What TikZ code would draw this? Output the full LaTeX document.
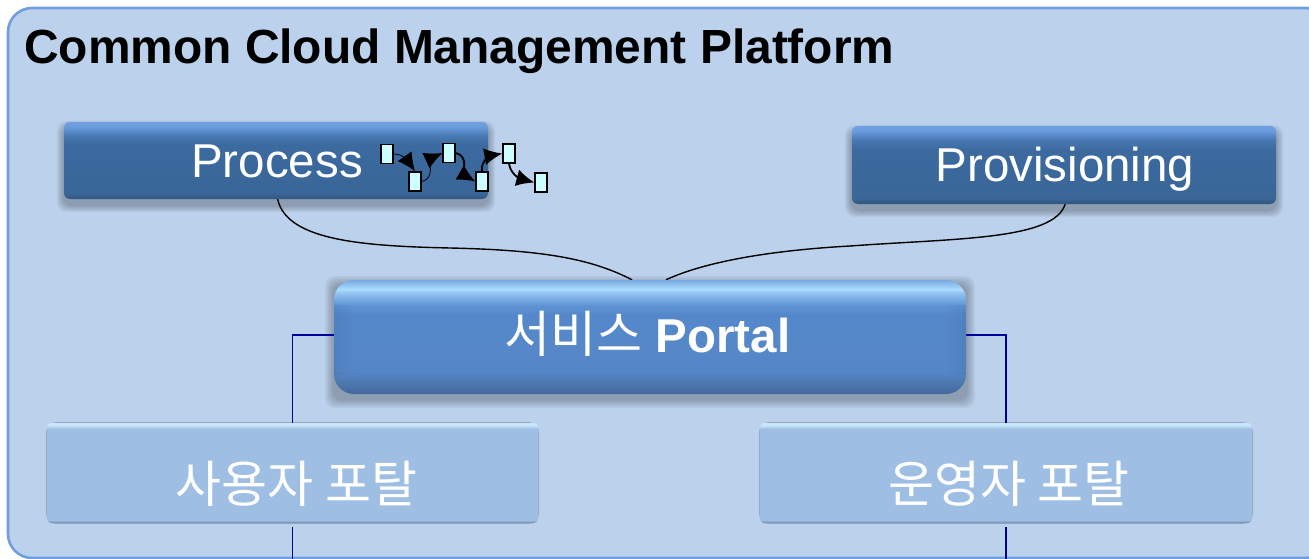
\documentclass[tikz,border=0pt]{standalone}
\usepackage{fontspec}
\setmainfont{Liberation Sans}
\newfontfamily\krfont{Noto Sans CJK KR}
\usetikzlibrary{arrows.meta,calc,fadings}
\pgfdeclarelayer{framelayer}
\pgfdeclarelayer{shadowlayer}
\pgfdeclarelayer{wirelayer}
\pgfsetlayers{framelayer,shadowlayer,wirelayer,main}
\definecolor{framefill}{HTML}{BCD2EC}
\definecolor{frameline}{HTML}{6F9FE0}
\definecolor{wireblue}{HTML}{00009C}
\definecolor{iconfill}{HTML}{CCFFFF}
\definecolor{da}{HTML}{2F5680}
\definecolor{db}{HTML}{3A6698}
\definecolor{dc}{HTML}{3C6A9F}
\definecolor{dd}{HTML}{4878B2}
\definecolor{de}{HTML}{699BDE}
\definecolor{df}{HTML}{70A0E1}
\definecolor{pa}{HTML}{44689C}
\definecolor{pb}{HTML}{4D78B0}
\definecolor{pc}{HTML}{5587C8}
\definecolor{pd}{HTML}{5588CA}
\definecolor{pe}{HTML}{5F95D4}
\definecolor{pf}{HTML}{8FC0F0}
\definecolor{pg}{HTML}{A8DCFF}
\definecolor{ph}{HTML}{7AA8E0}
\definecolor{la}{HTML}{6F88AB}
\definecolor{lb}{HTML}{9FBEE4}
\definecolor{lc}{HTML}{C8E6FA}
% stops: 75bp = top of the shape, 25bp = bottom of the shape
\pgfdeclareverticalshading{darkbar}{100bp}{
 color(0bp)=(da); color(25bp)=(da); color(29bp)=(db); color(60bp)=(dc);
 color(66bp)=(dd); color(72bp)=(de); color(75bp)=(df); color(100bp)=(df)}
\pgfdeclareverticalshading{portalbar}{100bp}{
 color(0bp)=(pa); color(25bp)=(pa); color(30bp)=(pb); color(35bp)=(pc);
 color(60bp)=(pd); color(64bp)=(pe); color(69bp)=(pf); color(71bp)=(pg);
 color(75bp)=(ph); color(100bp)=(ph)}
\pgfdeclareverticalshading{palebar}{100bp}{
 color(0bp)=(la); color(25bp)=(la); color(26.5bp)=(lb); color(72bp)=(lb);
 color(74bp)=(lc); color(75bp)=(lc); color(100bp)=(lc)}
\newcommand{\softshadow}[3]{% node, y offset, spread
 \begin{pgfonlayer}{shadowlayer}
 \foreach \g in {1,...,6}{
  \fill[black,opacity=.045,rounded corners=10pt]
   ($(#1.south west)+(-\g*#3/6,#2+\g*#3/6)$) rectangle ($(#1.north east)+(\g*#3/6,#2-\g*#3/6)$);
 }
 \end{pgfonlayer}}
\newcommand{\barline}[2]{\raisebox{#1}[0pt][0pt]{#2}}
\tikzset{
 x=1pt,y=-1pt,
 barlabel/.style={font=\fontsize{47.5}{52}\selectfont,text=white,inner sep=0pt},
 darkbox/.style={barlabel,shading=darkbar,rounded corners=6pt,minimum width=424pt,minimum height=77pt},
 portalbox/.style={barlabel,shading=portalbar,rounded corners=20pt,minimum width=632pt,minimum height=114pt},
 palebox/.style={barlabel,shading=palebar,rounded corners=4pt,minimum width=491pt,minimum height=100pt},
 icon/.style={draw=black,line width=1.8pt,fill=iconfill,minimum width=11.5pt,minimum height=19pt,inner sep=0pt},
 flow/.style={-{Latex[length=18pt,width=17pt]},black,line width=.8pt},
 flowthick/.style={flow,line width=1.8pt},
 curve/.style={black,line width=1.4pt},
 wire/.style={wireblue,line width=1.5pt},
 bevelshade/.style={black,opacity=.06},
}
\begin{document}
\begin{tikzpicture}
\useasboundingbox (0,0) rectangle (1309,559);
\begin{pgfonlayer}{framelayer}
\draw[frameline,fill=framefill,line width=2.6pt,rounded corners=24pt] (8,8) rectangle (1330,558);
\end{pgfonlayer}
\node[anchor=west,inner sep=0pt,font=\fontsize{47.9}{52}\selectfont\bfseries] (title) at (24,51) {Common Cloud Management Platform};

\node[darkbox] (proc) at (276,160.5) {\barline{-17.5pt}{\hspace{2pt}Process}};
\node[darkbox,minimum height=78pt] (prov) at (1064,165) {\barline{-17pt}{\hspace{2pt}Provisioning}};
\node[portalbox] (portal) at (650,337) {\barline{-15pt}{\hspace{-5pt}{\krfont\fontsize{50}{52}\selectfont 서비스} \textbf{Portal}}};
\node[palebox] (user) at (292.5,473) {\barline{-29pt}{\hspace{8pt}\krfont\fontsize{50}{52}\selectfont 사용자 포탈}};
\node[palebox,minimum width=492pt] (oper) at (1006,473) {\barline{-29pt}{\hspace{6pt}\krfont\fontsize{50}{52}\selectfont 운영자 포탈}};

\softshadow{proc}{6}{7}
\softshadow{prov}{6}{7}
\softshadow{portal}{5}{9}
\softshadow{user}{0}{1}
\softshadow{oper}{0}{1}

\fill[bevelshade,path fading=east] (portal.west |- 0,305) rectangle ++(20,70);
\fill[bevelshade,path fading=west] (portal.east |- 0,305) rectangle ++(-20,70);

\node[icon] (i1) at (387,154) {};
\node[icon] (i2) at (415,181.5) {};
\node[icon] (i3) at (449,153) {};
\node[icon] (i4) at (482,181.5) {};
\node[icon] (i5) at (509,153.5) {};
\node[icon] (i6) at (541,182.5) {};
\draw[flow] (i1.east) to[out=0,in=125] (i2.north);
\draw[flow] (i2.east) to[out=10,in=205] (i3.west);
\draw[flowthick] (i3.east) to[out=-10,in=150] (i4.west);
\draw[flowthick] (i4.north) to[out=100,in=190] (i5.west);
\draw[flowthick] (i5.south) to[out=-80,in=165] (i6.west);

\coordinate (procfoot) at ($(proc.south)+(1,-4)$);
\coordinate (provfoot) at ($(prov.south)+(2,-4)$);
\coordinate (portalleft) at ($(portal.north)+(-18,0)$);
\coordinate (portalright) at ($(portal.north)+(16,0)$);
\coordinate (userdown) at (user.south |- 0,559);
\coordinate (operdown) at (oper.south |- 0,559);
\coordinate (userstub) at ($(user.south)+(0,4)$);
\coordinate (operstub) at ($(oper.south)+(0,4)$);
\begin{pgfonlayer}{wirelayer}
\draw[curve] (procfoot) .. controls +(5,45) and (360,246) .. (450,248) .. controls (540,250) and (590,258) .. (portalleft);
\draw[curve] (provfoot) .. controls +(-5,40) and (960,238) .. (850,246) .. controls (760,251) and (700,264) .. (portalright);
\draw[wire] ($(portal.west)+(0,-2)$) -| (user.north);
\draw[wire] ($(portal.east)+(0,-2)$) -| (oper.north);
\end{pgfonlayer}
\draw[wire] (userstub) -- (userdown);
\draw[wire] (operstub) -- (operdown);
\end{tikzpicture}
\end{document}
